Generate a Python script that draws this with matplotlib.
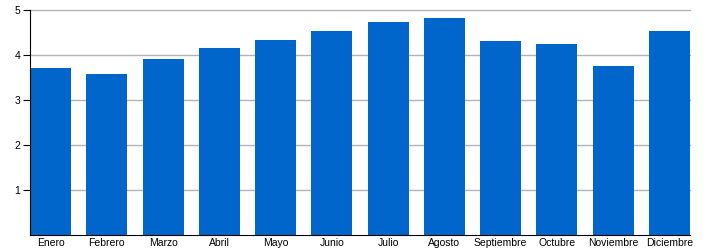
import matplotlib
matplotlib.use("Agg")
import matplotlib.pyplot as plt

months = ["Enero", "Febrero", "Marzo", "Abril", "Mayo", "Junio", "Julio",
          "Agosto", "Septiembre", "Octubre", "Noviembre", "Diciembre"]
values = [3.72, 3.59, 3.92, 4.16, 4.34, 4.54, 4.74, 4.83, 4.32, 4.26, 3.76, 4.54]
yticks = [1, 2, 3, 4, 5]

plt.rcParams['font.family'] = ['Liberation Sans', 'DejaVu Sans']

fig = plt.figure(figsize=(7.05, 2.5), dpi=100)
ax = fig.add_axes([30/705, 15/250, 660/705, 224.5/250])

x = list(range(len(months)))
ax.bar(x, values, width=0.73, color="#0066CC", zorder=2)
ax.set_xlim(-0.365, len(months) - 1 + 0.365)
ax.set_ylim(0, 5)
ax.set_yticks(yticks)
ax.set_yticklabels([str(t) for t in yticks], fontsize=7.5)
ax.set_xticks(x)
ax.set_xticklabels(months, fontsize=7.5)
ax.yaxis.grid(True, color="#b3b3b3", linewidth=1, zorder=1)
ax.set_axisbelow(True)
for gl in ax.get_ygridlines():
    gl.set_clip_on(False)
for s in ["top", "right"]:
    ax.spines[s].set_visible(False)
ax.spines["left"].set_color("black")
ax.spines["bottom"].set_color("black")
ax.tick_params(axis="x", length=0, pad=2)
ax.tick_params(axis="y", length=5, width=0.8, pad=2)

fig.savefig("out.png", dpi=100)
